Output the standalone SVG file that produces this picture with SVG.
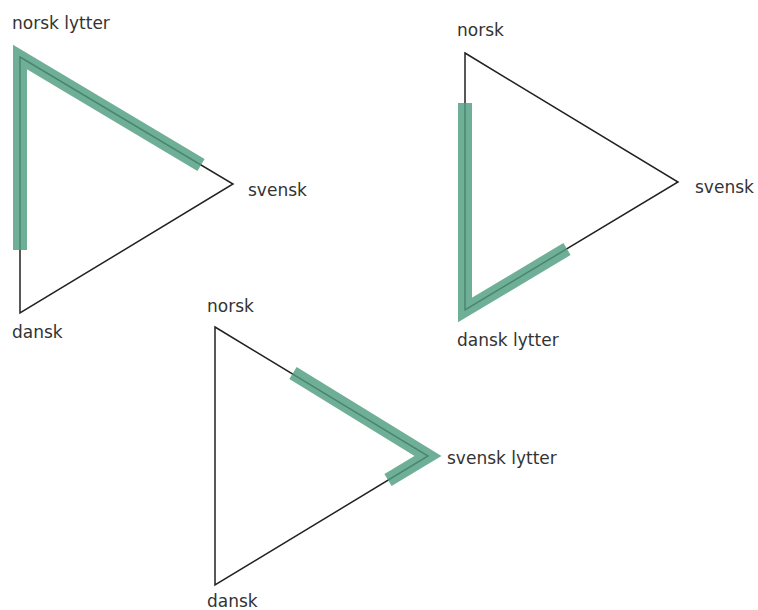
<svg xmlns="http://www.w3.org/2000/svg" width="758" height="610" viewBox="0 0 758 610">
<style>
.edge{fill:none;stroke:#222;stroke-width:1.5;stroke-linejoin:miter}
.hl{fill:none;stroke:#4f9c80;stroke-width:14;stroke-opacity:0.82;stroke-linejoin:miter;stroke-miterlimit:10;stroke-linecap:butt}
.lbl{font-family:"DejaVu Sans","Liberation Sans",sans-serif;font-size:17px;fill:#333}
</style>
<rect width="758" height="610" fill="#fff"/>
<g id="connectors">
<polygon class="edge" points="20,57 233,184 20,313"/>
<polygon class="edge" points="465,53 678,182 465,310"/>
<polygon class="edge" points="215,327 428,456 215,585"/>
</g>
<g id="highlights">
<polyline class="hl" points="20,250 20,57 201,165"/>
<polyline class="hl" points="465,103 465,310 567,249"/>
<polyline class="hl" points="293,373 428,456 388,480"/>
</g>
<g id="t1-norsk"><text class="lbl" x="12" y="29">norsk lytter</text></g>
<g id="t1-svensk"><text class="lbl" x="248" y="196">svensk</text></g>
<g id="t1-dansk"><text class="lbl" x="12" y="338">dansk</text></g>
<g id="t2-norsk"><text class="lbl" x="457" y="36">norsk</text></g>
<g id="t2-svensk"><text class="lbl" x="695" y="193">svensk</text></g>
<g id="t2-dansk"><text class="lbl" x="457" y="346">dansk lytter</text></g>
<g id="t3-norsk"><text class="lbl" x="207" y="312">norsk</text></g>
<g id="t3-svensk"><text class="lbl" x="447" y="464">svensk lytter</text></g>
<g id="t3-dansk"><text class="lbl" x="207" y="607">dansk</text></g>
</svg>
